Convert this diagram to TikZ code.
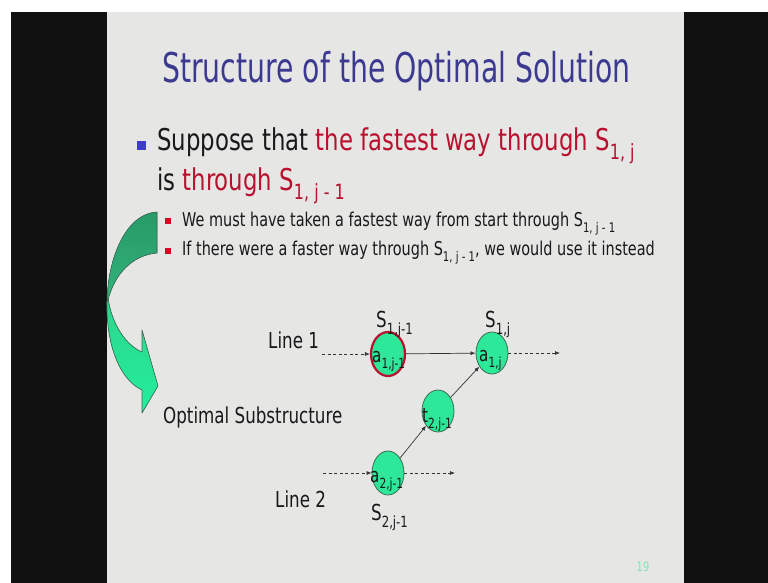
\documentclass[tikz,border=0pt]{standalone}
\usepackage{fontspec}
\setmainfont{DejaVu Sans}[FakeStretch=0.76]
\newfontfamily\titlefont{DejaVu Sans}[FakeStretch=0.69]
\usetikzlibrary{shapes.geometric,arrows.meta}
\definecolor{slide}{HTML}{E6E7E5}
\definecolor{frame}{HTML}{111111}
\definecolor{titleblue}{HTML}{3C3A90}
\definecolor{dotblue}{HTML}{3C3CC8}
\definecolor{crimson}{HTML}{B8102E}
\definecolor{dotred}{HTML}{DD0022}
\definecolor{mint}{HTML}{2EE89A}
\definecolor{backtop}{HTML}{279A68}
\definecolor{backbot}{HTML}{33B47C}
\definecolor{fronttop}{HTML}{2ED48C}
\definecolor{frontbot}{HTML}{22F09C}
\definecolor{rimgray}{HTML}{3D6B55}
\definecolor{arrowgray}{HTML}{333333}
\definecolor{pagegreen}{HTML}{80E4B6}
\newcommand{\idx}[1]{\raisebox{-0.32em}{\scalebox{0.7}{#1}}}
\begin{document}
\begin{tikzpicture}[x=1pt, y=-1pt, line join=round,
  lbl/.style={inner sep=0, anchor=base west, text=black!90},
  station/.style={ellipse, draw=rimgray, fill=mint, line width=0.8pt, inner sep=0},
  flow/.style={-{Latex[length=5pt,width=4pt]}, line width=0.7pt, draw=arrowgray},
  feed/.style={flow, dash pattern=on 3pt off 2.5pt}]
  \useasboundingbox (0,0) rectangle (768,583);
  % el fondo: marco negro y la diapositiva
  \fill[white] (0,0) rectangle (768,583);
  \fill[frame] (11,12) rectangle (768,583);
  \fill[slide] (107,12) rectangle (684,583);
  % titulo
  \node[lbl, text=titleblue, font=\titlefont\fontsize{41}{49}\selectfont] (title) at (162,83)
    {Structure of the Optimal Solution};
  % primer punto, en dos lineas
  \fill[dotblue] (137,141) rectangle (146,150);
  \node[lbl, font=\fontsize{30}{36}\selectfont] (pt1) at (157,150)
    {Suppose that \textcolor{crimson}{the fastest way through S\idx{1, j}}};
  \node[lbl, font=\fontsize{30}{36}\selectfont] (pt2) at (157,190)
    {is \textcolor{crimson}{through S\idx{1, j - 1}}};
  % subpuntos
  \fill[dotred] (165,218) rectangle (171,224);
  \fill[dotred] (165,248) rectangle (171,254);
  \node[lbl, font=\fontsize{19}{23}\selectfont] (sub1) at (182,226)
    {We must have taken a fastest way from start through S\idx{1, j - 1}};
  \node[lbl, font=\fontsize{19}{23}\selectfont] (sub2) at (182,255)
    {If there were a faster way through S\idx{1, j - 1}, we would use it instead};
  % la flecha curva verde (parte de atras y parte de delante)
  \filldraw[draw=rimgray, line width=0.6pt, top color=backtop, bottom color=backbot]
    (157,212) -- (157,253) .. controls (134,255) and (114,272) .. (107,304)
    .. controls (107,262) and (124,214) .. (157,212) -- cycle;
  \filldraw[draw=rimgray, line width=0.6pt, top color=fronttop, bottom color=frontbot]
    (108,298) .. controls (112,325) and (126,345) .. (142,352) -- (142,330) -- (158,386)
    -- (142,413) -- (142,390) .. controls (120,380) and (106,345) .. (107,302) -- cycle;
  % etiquetas de las lineas
  \node[lbl, font=\fontsize{22}{26}\selectfont] (line1) at (268,348) {Line 1};
  \node[lbl, font=\fontsize{22}{26}\selectfont] (optsub) at (163,423) {Optimal Substructure};
  \node[lbl, font=\fontsize{22}{26}\selectfont] (line2) at (275,507) {Line 2};
  % las estaciones
  \node[station, draw=crimson, line width=2.2pt, minimum width=34, minimum height=44] (a1p) at (388,354) {};
  \node[station, minimum width=32, minimum height=42] (a1j) at (492,353) {};
  \node[station, minimum width=32, minimum height=42] (t2p) at (438,411) {};
  \node[station, minimum width=32, minimum height=44] (a2p) at (388,473) {};
  \node[lbl, font=\fontsize{20}{24}\selectfont] (a1ptxt) at (372,362) {a\idx{1,j-1}};
  \node[lbl, font=\fontsize{20}{24}\selectfont] (a1jtxt) at (479,361) {a\idx{1,j}};
  \node[lbl, font=\fontsize{20}{24}\selectfont] (t2ptxt) at (422,422) {t\idx{2,j-1}};
  \node[lbl, font=\fontsize{20}{24}\selectfont] (a2ptxt) at (370,482) {a\idx{2,j-1}};
  \node[lbl, font=\fontsize{22}{26}\selectfont] (s1p) at (376,327) {S\idx{1,j-1}};
  \node[lbl, font=\fontsize{22}{26}\selectfont] (s1j) at (485,327) {S\idx{1,j}};
  \node[lbl, font=\fontsize{22}{26}\selectfont] (s2p) at (371,520) {S\idx{2,j-1}};
  % flechas
  \coordinate (in1) at (322,354);
  \coordinate (out1) at (560,353);
  \coordinate (in2) at (323,473);
  \coordinate (out2) at (455,473);
  \draw[feed] (in1) -- (a1p);
  \draw[flow] (a1p) -- (a1j);
  \draw[feed] (a1j) -- (out1);
  \draw[feed] (in2) -- (a2p);
  \draw[feed] (a2p) -- (out2);
  \draw[flow] (a2p) -- (t2p);
  \draw[flow] (t2p) -- (a1j);
  % numero de pagina
  \node[text=pagegreen, font=\fontsize{13}{15}\selectfont, inner sep=0] (pageno) at (643,567) {19};
\end{tikzpicture}
\end{document}
